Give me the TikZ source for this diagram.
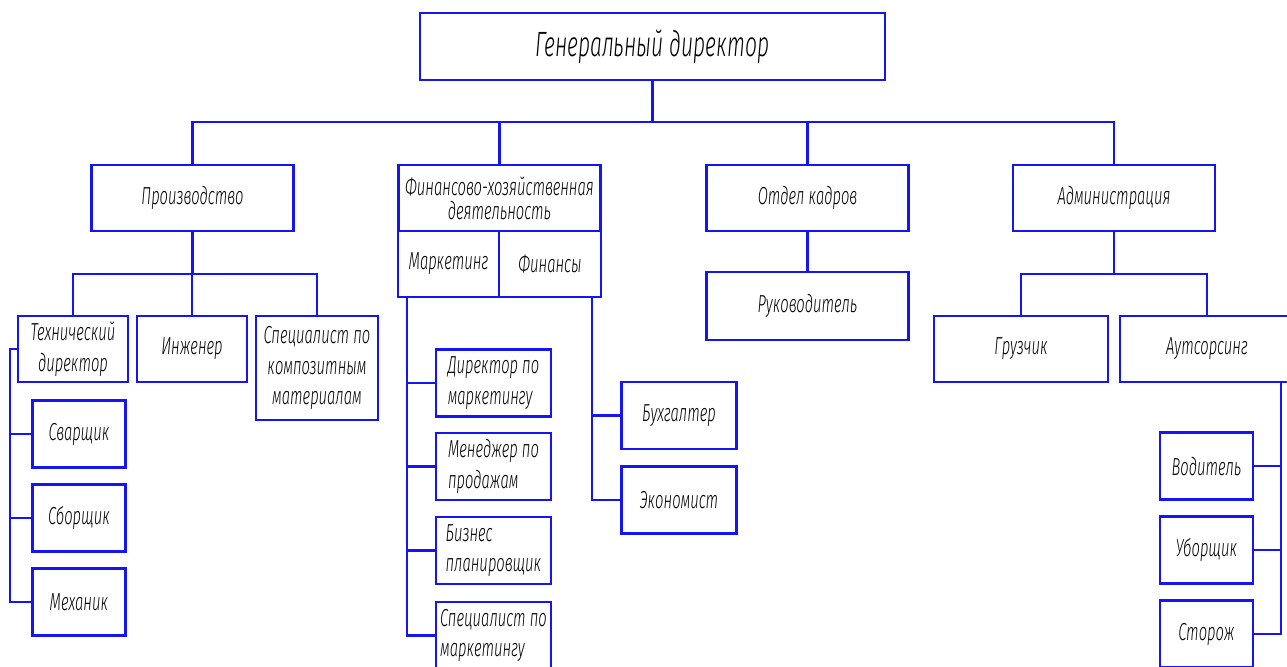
\documentclass[tikz,border=0pt]{standalone}
\usepackage{fontspec}
\setmainfont{Fira Sans Light}[ItalicFont={Fira Sans Light Italic}, FakeStretch=0.6]
\usetikzlibrary{positioning}
\definecolor{lineblue}{RGB}{20,20,245}

\begin{document}
\begin{tikzpicture}[
  x=0.02cm, y=-0.02cm,
  every node/.style={font=\itshape\fontsize{14}{17.5}\selectfont},
  box/.style={draw=lineblue, line width=1.2pt, fill=white, align=center, inner sep=2pt},
  chief/.style={box, minimum width=9.3cm, minimum height=1.34cm,
                font=\itshape\fontsize{20}{22}\selectfont},
  dept/.style={box, minimum width=4.04cm, minimum height=1.32cm},
  half/.style={box, minimum width=2.03cm, minimum height=1.32cm},
  unit/.style={box, minimum width=2.2cm, minimum height=1.32cm},
  staff/.style={box, minimum width=1.86cm, minimum height=1.34cm},
  role/.style={box, minimum width=2.3cm, minimum height=1.34cm, align=left},
  wide/.style={box, minimum width=3.48cm, minimum height=1.32cm},
  link/.style={draw=lineblue, line width=1.2pt}
]
\useasboundingbox (0,0) rectangle (1287,666);
\clip (0,0) rectangle (1287,666);

% top level
\node[chief] (gd) at (652.5,46.5) {Генеральный директор};

% departments
\node[dept] (prod) at (192.5,198) {Производство};
\node[dept, font=\itshape\fontsize{14}{13.5}\selectfont] (fin) at (499.5,198)
  {Финансово-хозяйственная\\деятельность};
\node[half] (mkt) at (448.5,264) {Маркетинг};
\node[half] (fins) at (550,264) {Финансы};
\node[dept] (hr) at (807.5,198) {Отдел кадров};
\node[dept] (adm) at (1114,198) {Администрация};

\coordinate (bus) at (652.5,122);
\draw[link] (gd.south) -- (bus);
\foreach \n in {prod,fin,hr,adm}
  \draw[link] (\n.north) |- (bus);

% production
\node[unit] (tech) at (73,349) {Технический\\директор};
\node[unit] (eng) at (192,349) {Инженер};
\node[box, minimum width=2.44cm, minimum height=2.08cm] (comp) at (317,368)
  {Специалист по\\композитным\\материалам};
\node[staff] (weld) at (79,434) {Сварщик};
\node[staff] (asm) at (79,518) {Сборщик};
\node[staff] (mech) at (79,602) {Механик};

\coordinate (pbus) at (192.5,274);
\draw[link] (prod.south) -- (pbus);
\foreach \n in {tech,eng,comp}
  \draw[link] (\n.north) |- (pbus);
\coordinate (tbus) at (10,349);
\foreach \n in {weld,asm,mech}
  \draw[link] (tech.west) -- (tbus) |- (\n.west);

% finance and marketing
\node[role] (mdir) at (493.5,383) {Директор по\\маркетингу};
\node[role] (sales) at (493.5,466.5) {Менеджер по\\продажам};
\node[role] (plan) at (493.5,550.5) {Бизнес\\планировщик};
\node[role] (mspec) at (493.5,635.5) {Специалист по\\маркетингу};
\node[role, align=center] (acc) at (679,415.5) {Бухгалтер};
\node[role, align=center] (econ) at (679,500) {Экономист};

\coordinate (mtop) at (407,297);
\foreach \n in {mdir,sales,plan,mspec}
  \draw[link] (mtop) |- (\n.west);
\coordinate (ftop) at (592,297);
\foreach \n in {acc,econ}
  \draw[link] (ftop) |- (\n.west);

% personnel
\node[dept, minimum height=1.36cm] (head) at (807.5,306) {Руководитель};
\draw[link] (hr.south) -- (head.north);

% administration
\node[wide] (load) at (1021,349) {Грузчик};
\node[wide] (out) at (1207,349) {Аутсорсинг};
\node[staff] (drv) at (1206.5,466) {Водитель};
\node[staff] (cln) at (1206.5,550) {Уборщик};
\node[staff] (grd) at (1206.5,634) {Сторож};

\coordinate (abus) at (1114,274);
\draw[link] (adm.south) -- (abus);
\foreach \n in {load,out}
  \draw[link] (\n.north) |- (abus);
\coordinate (otop) at (1281,382);
\foreach \n in {drv,cln,grd}
  \draw[link] (otop) |- (\n.east);

\end{tikzpicture}
\end{document}
